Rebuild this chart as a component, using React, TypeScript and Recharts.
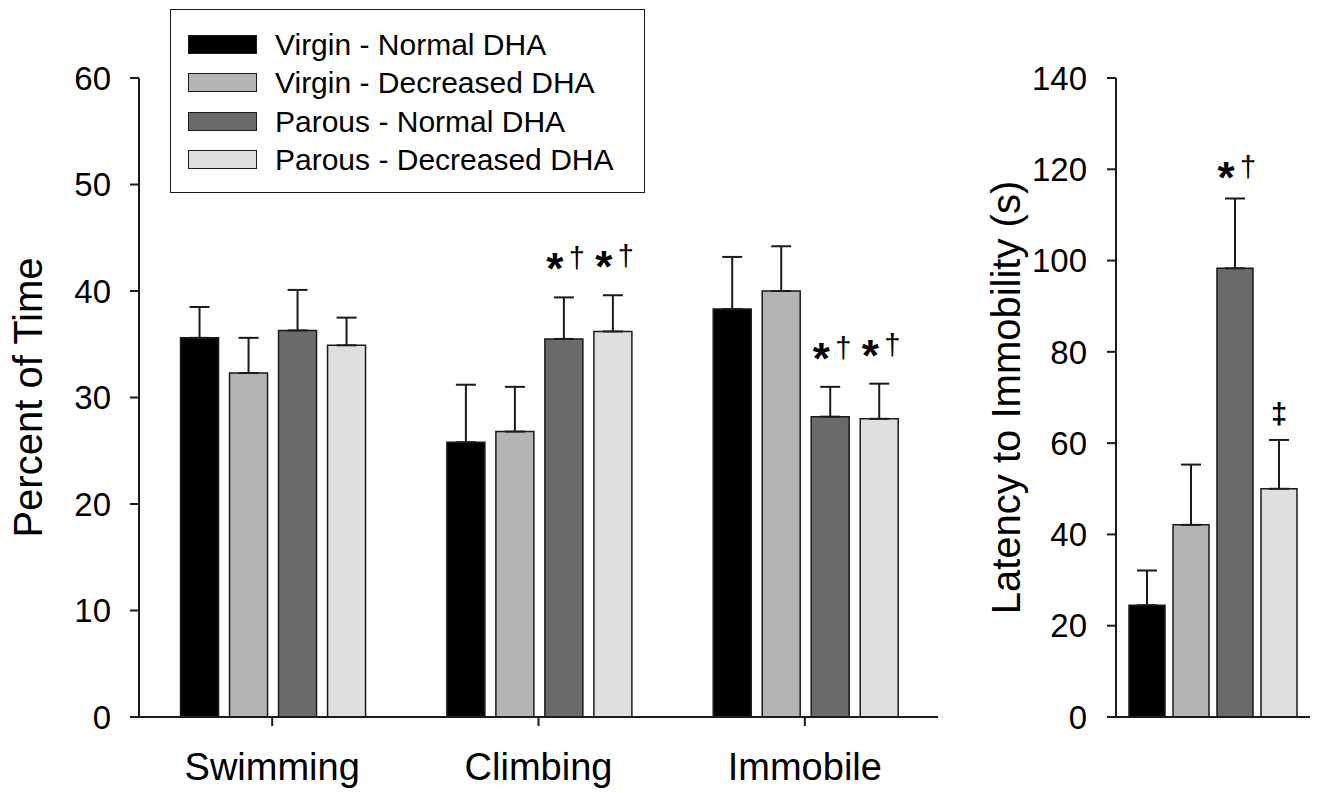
import { BarChart, Bar, XAxis, YAxis, ErrorBar, LabelList, Legend } from 'recharts';

const FONT = '"Liberation Sans", Arial, Helvetica, sans-serif';
const INK = '#1a1a1a';

// left panel: percent of time per behaviour
const categories = ['Swimming', 'Climbing', 'Immobile'];
const virginNormal = [35.6, 25.8, 38.3];
const virginNormalErr = [2.9, 5.4, 4.9];
const virginDecreased = [32.3, 26.8, 40.0];
const virginDecreasedErr = [3.3, 4.2, 4.2];
const parousNormal = [36.3, 35.5, 28.2];
const parousNormalErr = [3.8, 3.9, 2.8];
const parousDecreased = [34.9, 36.2, 28.0];
const parousDecreasedErr = [2.6, 3.4, 3.3];
const parousNormalMarks = ['', '*†', '*†'];
const parousDecreasedMarks = ['', '*†', '*†'];
const percentTicks = [0, 10, 20, 30, 40, 50, 60];

// right panel: latency to immobility (s)
const latency = [24.5, 42.1, 98.3, 50.0];
const latencyErr = [7.6, 13.2, 15.3, 10.7];
const latencyMarks = ['', '', '*†', '‡'];
const latencyTicks = [0, 20, 40, 60, 80, 100, 120, 140];

const seriesNames = [
  'Virgin - Normal DHA',
  'Virgin - Decreased DHA',
  'Parous - Normal DHA',
  'Parous - Decreased DHA',
];
const seriesColors = ['#000000', '#b4b4b4', '#6a6a6a', '#dfdfdf'];

const leftData = categories.map((name, i) => ({
  name,
  vn: virginNormal[i],
  vnErr: [0, virginNormalErr[i]],
  vd: virginDecreased[i],
  vdErr: [0, virginDecreasedErr[i]],
  pn: parousNormal[i],
  pnErr: [0, parousNormalErr[i]],
  pnMark: parousNormalMarks[i],
  pd: parousDecreased[i],
  pdErr: [0, parousDecreasedErr[i]],
  pdMark: parousDecreasedMarks[i],
}));

const rightData = [
  {
    name: 'Latency',
    vn: latency[0],
    vnErr: [0, latencyErr[0]],
    vnMark: latencyMarks[0],
    vd: latency[1],
    vdErr: [0, latencyErr[1]],
    vdMark: latencyMarks[1],
    pn: latency[2],
    pnErr: [0, latencyErr[2]],
    pnMark: latencyMarks[2],
    pd: latency[3],
    pdErr: [0, latencyErr[3]],
    pdMark: latencyMarks[3],
  },
];

// draws "*†" / "‡" above the top of the error bar
function markRenderer(values: number[], errors: number[], gap: number) {
  return (props: any) => {
    const vb = props.viewBox || {};
    const x = props.x ?? vb.x;
    const y = props.y ?? vb.y;
    const w = props.width ?? vb.width;
    const h = Math.abs(props.height ?? vb.height);
    const mark = props.value;
    if (!mark) return null;
    const i = props.index;
    const perUnit = h / values[i];
    const errTop = y - errors[i] * perUnit;
    const cx = x + w / 2;
    const center = errTop - gap;
    if (mark.includes('*')) {
      return (
        <g key={`m-${i}`}>
          <text x={cx - 9} y={center + 25} textAnchor="middle" fontSize={44} fontWeight="bold" fontFamily={FONT} fill="#000">
            *
          </text>
          <text x={cx + 13} y={center + 9} textAnchor="middle" fontSize={29} fontFamily={FONT} fill="#000">
            †
          </text>
        </g>
      );
    }
    return (
      <text key={`m-${i}`} x={cx} y={center + 9} textAnchor="middle" fontSize={29} fontWeight="bold" fontFamily={FONT} fill="#000">
        {mark}
      </text>
    );
  };
}

function LegendBox() {
  return (
    <div
      style={{
        position: 'relative',
        width: 475,
        height: 184,
        border: `1.5px solid ${INK}`,
        boxSizing: 'border-box',
        background: '#fff',
        fontFamily: FONT,
      }}
    >
      {seriesNames.map((name, i) => (
        <div key={name} style={{ position: 'absolute', left: 17, top: 25 + i * 38.3, height: 19, display: 'flex', alignItems: 'center' }}>
          <div style={{ width: 69, height: 19, background: seriesColors[i], border: `1.5px solid ${INK}`, boxSizing: 'border-box' }} />
          <span style={{ marginLeft: 18, fontSize: 30, color: '#000', whiteSpace: 'nowrap', lineHeight: '19px' }}>{name}</span>
        </div>
      ))}
    </div>
  );
}

const axisLine = { stroke: INK, strokeWidth: 2 };
const tickLine = { stroke: INK, strokeWidth: 2 };
const Y_W = 60;
const X_H = 60;

function titleContent(text: string, cx: number) {
  return (p: any) => {
    const vb = p.viewBox || {};
    const cy = vb.y + vb.height / 2;
    return (
      <text x={cx} y={cy} transform={`rotate(-90 ${cx} ${cy})`} textAnchor="middle" dominantBaseline="central" fontSize={40} fontFamily={FONT} fill="#000">
        {text}
      </text>
    );
  };
}

export default function App() {
  const keys = ['vn', 'vd', 'pn', 'pd'];
  return (
    <div style={{ position: 'absolute', left: 0, top: 0, width: 1318, height: 793, background: '#fff', fontFamily: FONT }}>
      <div style={{ position: 'absolute', left: 0, top: 0 }}>
        <BarChart
          width={960}
          height={793}
          data={leftData}
          margin={{ top: 78, right: 22, bottom: 76 - X_H, left: 139 - Y_W }}
          barCategoryGap="15.6%"
          barGap={11}
        >
          <XAxis
            dataKey="name"
            height={X_H}
            axisLine={axisLine}
            tickLine={tickLine}
            tickSize={9}
            tickMargin={27}
            tick={{ fontSize: 38, fill: '#000', fontFamily: FONT }}
          />
          <YAxis
            width={Y_W}
            domain={[0, 60]}
            ticks={percentTicks}
            interval={0}
            axisLine={axisLine}
            tickLine={tickLine}
            tickSize={9}
            tickMargin={19}
            tick={{ fontSize: 33, fill: '#000', fontFamily: FONT }}
            label={{ content: titleContent('Percent of Time', 28) }}
          />
          <Legend
            layout="horizontal"
            verticalAlign="middle"
            align="center"
            content={() => <LegendBox />}
            wrapperStyle={{ left: 170, top: 9, width: 475, height: 184 }}
          />
          {keys.map((k, s) => (
            <Bar key={k} dataKey={k} name={seriesNames[s]} fill={seriesColors[s]} stroke={INK} strokeWidth={1.5} isAnimationActive={false}>
              <ErrorBar dataKey={`${k}Err`} width={10} stroke={INK} strokeWidth={2} direction="y" isAnimationActive={false} />
              {k === 'pn' && <LabelList dataKey="pnMark" content={markRenderer(parousNormal, parousNormalErr, 38)} />}
              {k === 'pd' && <LabelList dataKey="pdMark" content={markRenderer(parousDecreased, parousDecreasedErr, 38)} />}
            </Bar>
          ))}
        </BarChart>
      </div>
      <div style={{ position: 'absolute', left: 960, top: 0 }}>
        <BarChart
          width={358}
          height={793}
          data={rightData}
          margin={{ top: 78, right: 8, bottom: 76 - X_H, left: 156 - Y_W }}
          barCategoryGap="6.7%"
          barGap={8}
        >
          <XAxis dataKey="name" height={X_H} axisLine={axisLine} tickLine={false} tick={false} />
          <YAxis
            width={Y_W}
            domain={[0, 140]}
            ticks={latencyTicks}
            interval={0}
            axisLine={axisLine}
            tickLine={tickLine}
            tickSize={9}
            tickMargin={20}
            tick={{ fontSize: 33, fill: '#000', fontFamily: FONT }}
            label={{ content: titleContent('Latency to Immobility (s)', 1006 - 960) }}
          />
          {keys.map((k, s) => (
            <Bar key={k} dataKey={k} name={seriesNames[s]} fill={seriesColors[s]} stroke={INK} strokeWidth={1.5} isAnimationActive={false}>
              <ErrorBar dataKey={`${k}Err`} width={10} stroke={INK} strokeWidth={2} direction="y" isAnimationActive={false} />
              <LabelList dataKey={`${k}Mark`} content={markRenderer([latency[s]], [latencyErr[s]], k === 'pd' ? 25 : 30)} />
            </Bar>
          ))}
        </BarChart>
      </div>
    </div>
  );
}
